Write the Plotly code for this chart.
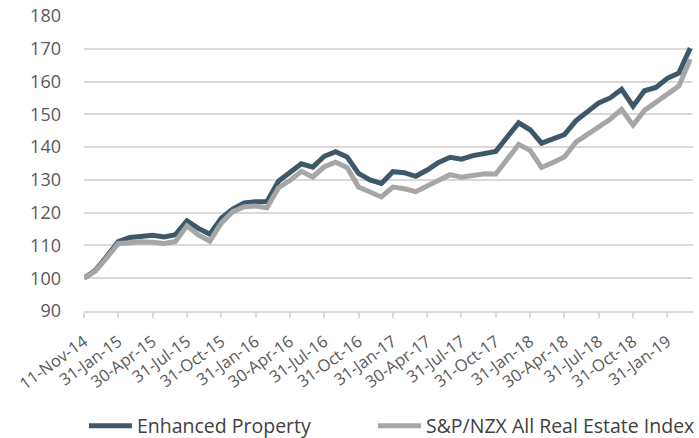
import pandas as pd
import plotly.graph_objects as go

# Category labels (observation dates)
month_ends = pd.date_range("2014-11-30", periods=53, freq="ME")
dates = ["11-Nov-14"] + [d.strftime("%d-%b-%y") for d in month_ends]

enhanced = [100.0, 102.4, 106.7, 111.2, 112.4, 112.9, 113.1, 112.6, 113.3, 117.5,
            115.2, 113.4, 118.3, 121.1, 123.0, 123.3, 123.4, 129.6, 132.2, 134.9,
            133.9, 137.2, 138.6, 137.0, 132.0, 130.0, 128.9, 132.5, 132.2, 131.1,
            133.0, 135.3, 136.9, 136.3, 137.4, 138.1, 138.7, 143.1, 147.4, 145.3,
            141.2, 142.5, 143.8, 148.0, 151.0, 153.5, 155.0, 157.6, 152.5, 157.2,
            158.2, 161.0, 162.6, 170.2]

index_nzx = [100.0, 102.2, 106.3, 110.6, 110.8, 111.1, 111.0, 110.6, 111.2, 116.0,
             113.2, 111.3, 116.8, 120.3, 121.8, 122.0, 121.5, 127.6, 129.8, 132.6,
             130.9, 134.0, 135.4, 133.8, 127.8, 126.3, 124.8, 127.8, 127.3, 126.4,
             128.0, 130.0, 131.6, 130.8, 131.3, 131.9, 131.8, 136.3, 140.8, 139.0,
             133.8, 135.3, 137.0, 141.5, 143.9, 146.2, 148.5, 151.5, 146.7, 151.2,
             153.7, 156.2, 158.6, 166.8]

tick_labels = dates[::3]
y_ticks = list(range(90, 181, 10))

fig = go.Figure()
fig.add_trace(go.Scatter(x=dates, y=enhanced, mode="lines", name="Enhanced Property",
                         line=dict(color="#3D5868", width=5), legendwidth=231))
fig.add_trace(go.Scatter(x=dates, y=index_nzx, mode="lines", name="S&P/NZX All Real Estate Index",
                         line=dict(color="#A6A6A6", width=5), legendwidth=264))

fig.update_layout(
    width=699, height=438,
    margin=dict(l=84, r=6, t=16, b=127, autoexpand=False),
    paper_bgcolor="white", plot_bgcolor="white",
    font=dict(family="Open Sans", color="#595959"),
    showlegend=True,
    legend=dict(orientation="h", x=-0.0001, xanchor="left", y=-0.39, yanchor="middle",
                font=dict(size=19.5, color="#404040"), tracegroupgap=0, itemwidth=43),
)
fig.update_xaxes(
    type="category", range=[0, 53.24], automargin=False,
    tickmode="array", tickvals=tick_labels, ticktext=tick_labels,
    tickangle=-36, tickfont=dict(size=16.5, color="#595959"),
    showgrid=False, showline=True, linecolor="#D9D9D9", linewidth=1.5,
    ticks="outside", ticklen=5, tickcolor="#D9D9D9", tickwidth=1.5,
    ticklabelstandoff=8,
)
fig.update_yaxes(
    range=[90, 180], tickmode="array", tickvals=y_ticks, automargin=False,
    tickfont=dict(size=18, color="#595959"),
    showgrid=True, gridcolor="#D9D9D9", gridwidth=1.5,
    zeroline=False, ticks="", ticklabelstandoff=22,
)

fig.write_html("out.html", config={"displayModeBar": False},
               post_script="document.body.style.margin='0';document.body.style.overflow='hidden';")
